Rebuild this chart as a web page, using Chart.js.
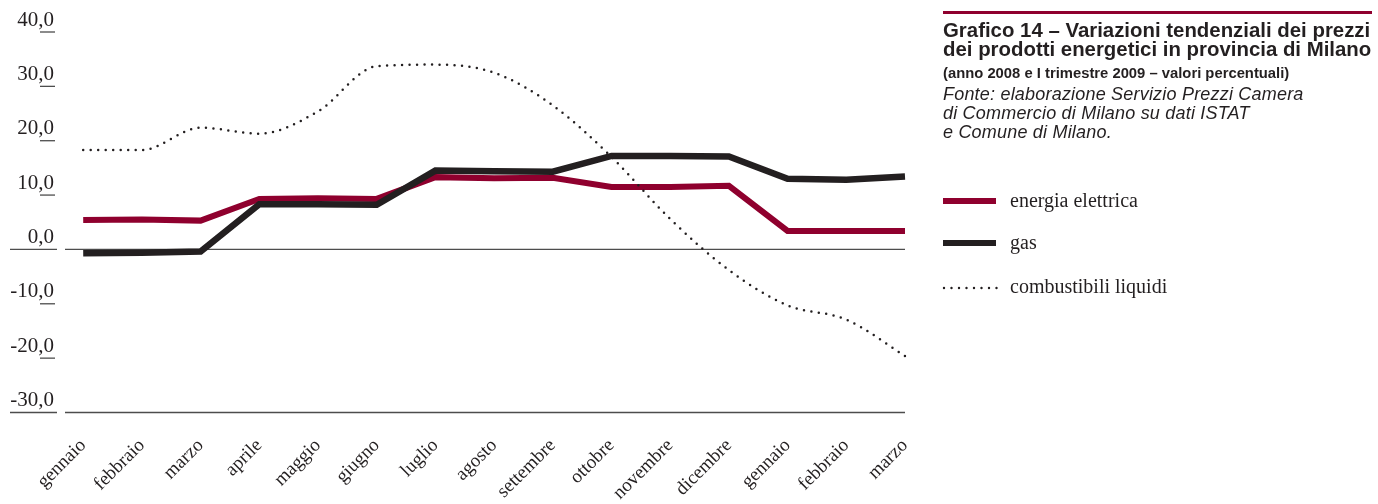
<!DOCTYPE html>
<html>
<head>
<meta charset="utf-8">
<script src="https://cdn.jsdelivr.net/npm/chart.js"></script>
<style>
  html, body { margin: 0; padding: 0; background: #fff; }
  #wrap { position: relative; width: 1378px; height: 504px; overflow: hidden; }
  #chart { position: absolute; left: 0; top: 0; }
  .rule { position: absolute; left: 943px; top: 11px; width: 429px; height: 3px; background: #8f002e; }
  .t { position: absolute; left: 943px; white-space: nowrap; color: #231f20;
       font-family: "Liberation Sans", Arial, Helvetica, sans-serif; }
  .t1 { top: 21px; font-size: 20.4px; font-weight: bold; line-height: 18.5px; }
  .t2 { top: 64px; font-size: 14.8px; font-weight: bold; line-height: 18px; }
  .t3 { top: 85px; font-size: 18px; font-style: italic; line-height: 19.2px; letter-spacing: 0.2px; }
  .leg { position: absolute; left: 943px; height: 20px; }
  .leg .sw { position: absolute; left: 0; width: 53px; }
  .leg .lab { position: absolute; left: 67px; top: 0; white-space: nowrap; color: #231f20;
              font-family: "Liberation Serif", "Times New Roman", serif; font-size: 20px; line-height: 20px; }
</style>
</head>
<body>
<div id="wrap">
  <canvas id="chart" width="1378" height="504"></canvas>
  <div class="rule"></div>
  <div class="t t1">Grafico 14 – Variazioni tendenziali dei prezzi<br>dei prodotti energetici in provincia di Milano</div>
  <div class="t t2">(anno 2008 e I trimestre 2009 – valori percentuali)</div>
  <div class="t t3">Fonte: elaborazione Servizio Prezzi Camera<br>di Commercio di Milano su dati ISTAT<br>e Comune di Milano.</div>
  <div id="legend"></div>
</div>
<script>
// Months: 2008 and first quarter of 2009
const months = ['gennaio', 'febbraio', 'marzo', 'aprile', 'maggio', 'giugno', 'luglio', 'agosto',
                'settembre', 'ottobre', 'novembre', 'dicembre', 'gennaio', 'febbraio', 'marzo'];

// Year-on-year price changes (%)
const energiaElettrica = [5.4, 5.5, 5.3, 9.3, 9.4, 9.3, 13.3, 13.1, 13.2, 11.5, 11.5, 11.7, 3.4, 3.4, 3.4];
const gas = [-0.7, -0.6, -0.4, 8.3, 8.3, 8.2, 14.5, 14.4, 14.3, 17.2, 17.2, 17.1, 13.0, 12.8, 13.4];
const combustibiliLiquidi = [18.3, 18.3, 22.4, 21.3, 25.4, 33.7, 34.0, 32.5, 26.5, 17.0, 5.6, -3.8, -10.3, -12.9, -19.6];

// Value axis ticks
const yTicks = [40, 30, 20, 10, 0, -10, -20, -30];

const seriesNames = ['energia elettrica', 'gas', 'combustibili liquidi'];

const RED = '#8f002e';
const INK = '#231f20';

const toPoints = arr => arr.map((v, i) => ({ x: i, y: v }));

// Short tick marks beside the labels, plus full rules at 0 and at the bottom
const axisMarks = {
  id: 'axisMarks',
  beforeDatasetsDraw(chart) {
    const { ctx, chartArea, scales } = chart;
    const y = scales.y;
    const L = chartArea.left;
    ctx.save();
    ctx.strokeStyle = '#4d4d4d';
    ctx.lineWidth = 1.3;
    yTicks.forEach(v => {
      const p = y.getPixelForValue(v);
      ctx.beginPath();
      if (v === 0 || v === y.min) {
        ctx.moveTo(L - 55, p); ctx.lineTo(L - 8, p);
        ctx.moveTo(L, p); ctx.lineTo(chartArea.right, p);
      } else {
        ctx.moveTo(L - 25, p); ctx.lineTo(L - 10, p);
      }
      ctx.stroke();
    });
    ctx.restore();
  }
};

const serif = '"Liberation Serif", "Times New Roman", serif';

new Chart(document.getElementById('chart'), {
  type: 'line',
  data: {
    datasets: [
      { label: seriesNames[0], data: toPoints(energiaElettrica), borderColor: RED, borderWidth: 6,
        pointRadius: 0, tension: 0, order: 3, clip: 8 },
      { label: seriesNames[1], data: toPoints(gas), borderColor: INK, borderWidth: 6.5,
        pointRadius: 0, tension: 0, order: 2, clip: 8 },
      { label: seriesNames[2], data: toPoints(combustibiliLiquidi), borderColor: INK, borderWidth: 2.5,
        borderDash: [0, 7.5], borderCapStyle: 'round', pointRadius: 0,
        cubicInterpolationMode: 'monotone', order: 1, clip: 8 }
    ]
  },
  options: {
    responsive: false,
    animation: false,
    events: [],
    layout: { padding: { left: 0, top: 32, right: 473, bottom: 0 } },
    plugins: { legend: { display: false }, tooltip: { enabled: false } },
    scales: {
      x: {
        type: 'linear',
        min: -0.31,
        max: 14,
        afterBuildTicks: s => { s.ticks = months.map((m, i) => ({ value: i })); },
        afterFit: s => { s.height = 91.5; },
        grid: { display: false },
        border: { display: false },
        ticks: {
          autoSkip: false,
          minRotation: 45,
          maxRotation: 45,
          padding: 14,
          color: INK,
          font: { family: serif, size: 19 },
          callback: v => months[v]
        }
      },
      y: {
        min: -30,
        max: 40,
        afterBuildTicks: s => { s.ticks = yTicks.map(v => ({ value: v })); },
        afterFit: s => { s.width = 65; },
        grid: { display: false },
        border: { display: false },
        ticks: {
          padding: 3,
          labelOffset: -12,
          color: INK,
          font: { family: serif, size: 21 },
          callback: v => v.toFixed(1).replace('.', ',')
        }
      }
    }
  },
  plugins: [axisMarks]
});

// Legend built from the series names and styles
const legendRows = [
  { name: seriesNames[0], top: 190, kind: 'solid', color: RED, h: 6 },
  { name: seriesNames[1], top: 232, kind: 'solid', color: INK, h: 6.5 },
  { name: seriesNames[2], top: 276, kind: 'dots', color: INK }
];
const legend = document.getElementById('legend');
legendRows.forEach(r => {
  const row = document.createElement('div');
  row.className = 'leg';
  row.style.top = r.top + 'px';
  let sw;
  if (r.kind === 'solid') {
    sw = document.createElement('div');
    sw.className = 'sw';
    sw.style.top = (11 - r.h / 2) + 'px';
    sw.style.height = r.h + 'px';
    sw.style.background = r.color;
  } else {
    sw = document.createElementNS('http://www.w3.org/2000/svg', 'svg');
    sw.setAttribute('width', '60');
    sw.setAttribute('height', '6');
    sw.style.position = 'absolute';
    sw.style.left = '-1px';
    sw.style.top = '9px';
    sw.innerHTML = '<line x1="2" y1="3" x2="58" y2="3" stroke="' + r.color +
      '" stroke-width="2.4" stroke-linecap="round" stroke-dasharray="0 7.5"/>';
  }
  row.appendChild(sw);
  const lab = document.createElement('div');
  lab.className = 'lab';
  lab.textContent = r.name;
  row.appendChild(lab);
  legend.appendChild(row);
});
</script>
</body>
</html>
